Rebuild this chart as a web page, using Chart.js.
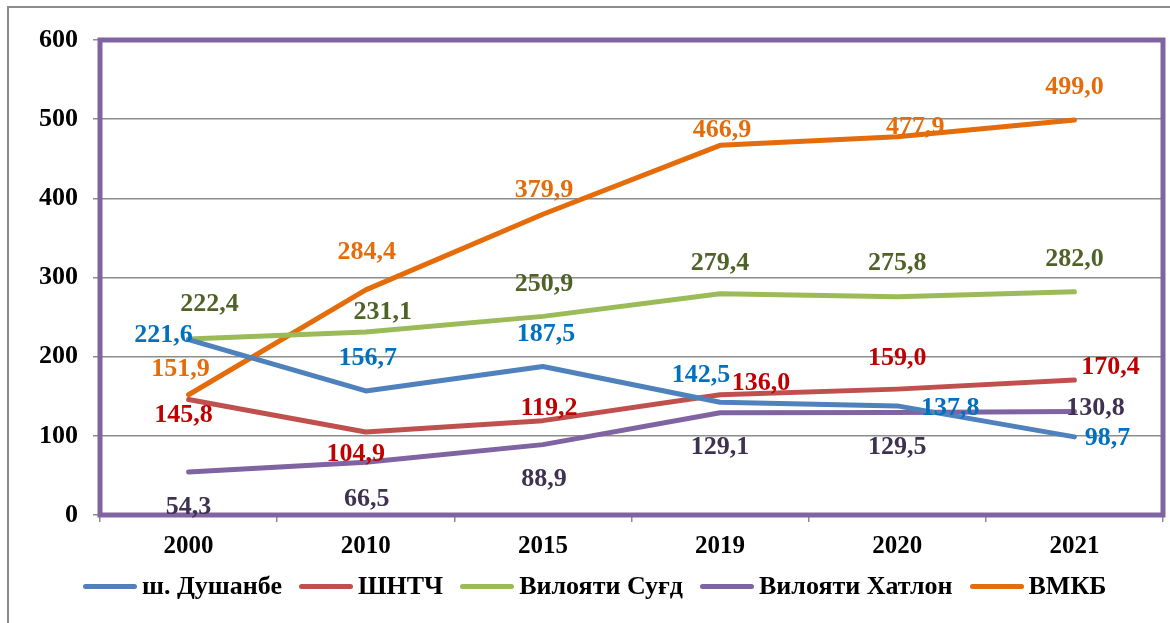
<!DOCTYPE html>
<html lang="tg">
<head>
  <meta charset="UTF-8">
  <title>Диаграмма</title>
  <script src="https://cdn.jsdelivr.net/npm/chart.js"></script>
  <style>
    body {
      margin: 0;
      width: 1170px;
      height: 623px;
      overflow: hidden;
      background: #fff;
      font-family: 'Liberation Serif', 'Times New Roman', serif;
    }
    #frame {
      position: absolute;
      left: 7px;
      top: 6px;
      width: 1300px;
      height: 800px;
      border: 2px solid #8c8c8c;
    }
    #chart {
      position: absolute;
      left: 0;
      top: 0;
    }
    #legend {
      position: absolute;
      left: 83px;
      top: 571px;
      height: 30px;
      display: flex;
      align-items: center;
      font-weight: bold;
      font-size: 26px;
      color: #000;
      white-space: nowrap;
    }
    .item {
      display: flex;
      align-items: center;
      margin-right: 17px;
    }
    .swatch {
      width: 54px;
      height: 5px;
      border-radius: 3px;
      margin-right: 5px;
    }
  </style>
</head>
<body>
  <div id="frame"></div>
  <canvas id="chart" width="1170" height="623"></canvas>
  <div id="legend"></div>

  <script>
    const years = ["2000", "2010", "2015", "2019", "2020", "2021"];
    const dushanbe = [221.6, 156.7, 187.5, 142.5, 137.8, 98.7];
    const shntch = [145.8, 104.9, 119.2, 152.0, 159.0, 170.4];
    // label printed in the original at 2019 differs from where the line sits
    const shntchText = ["145,8", "104,9", "119,2", "136,0", "159,0", "170,4"];
    const sughd = [222.4, 231.1, 250.9, 279.4, 275.8, 282.0];
    const khatlon = [54.3, 66.5, 88.9, 129.1, 129.5, 130.8];
    const vmkb = [151.9, 284.4, 379.9, 466.9, 477.9, 499.0];
    const yTicks = [0, 100, 200, 300, 400, 500, 600];

    const fmt = v => v.toFixed(1).replace(".", ",");
    const serif = "'Liberation Serif', 'Times New Roman', serif";

    // series: name, data, line colour, label colour, label offsets
    const series = [
      { name: "ш. Душанбе", data: dushanbe, color: "#4F81BD", labelColor: "#0070C0",
        off: [[-25, -4], [2, -33], [3, -32], [-19, -27], [53, 2], [33, 1]] },
      { name: "ШНТЧ", data: shntch, text: shntchText, color: "#C0504D", labelColor: "#C00000",
        off: [[-5, 16], [-10, 22], [6, -12], [41, -11], [0, -31], [36, -13]] },
      { name: "Вилояти Суғд", data: sughd, color: "#9BBB59", labelColor: "#4F6228",
        off: [[21, -35], [17, -20], [1, -32], [0, -31], [0, -33], [0, -32]] },
      { name: "Вилояти Хатлон", data: khatlon, color: "#8064A2", labelColor: "#3F3151",
        off: [[0, 35], [1, 37], [1, 35], [0, 34], [0, 35], [21, -3]] },
      { name: "ВМКБ", data: vmkb, color: "#E46C0A", labelColor: "#E46C0A",
        off: [[-8, -25], [1, -38], [1, -24], [2, -15], [18, -9], [0, -33]] }
    ];

    // purple frame round the plot area
    const plotBorder = {
      id: "plotBorder",
      beforeDatasetsDraw(chart) {
        const { ctx, chartArea: a } = chart;
        ctx.save();
        ctx.strokeStyle = "#8064A2";
        ctx.lineWidth = 5;
        ctx.strokeRect(a.left, a.top, a.right - a.left, a.bottom - a.top);
        ctx.restore();
      }
    };

    // value labels next to each point
    const valueLabels = {
      id: "valueLabels",
      afterDatasetsDraw(chart) {
        const ctx = chart.ctx;
        ctx.save();
        ctx.font = "bold 26px " + serif;
        ctx.textAlign = "center";
        ctx.textBaseline = "middle";
        series.forEach((s, i) => {
          const meta = chart.getDatasetMeta(i);
          meta.data.forEach((pt, j) => {
            const txt = s.text ? s.text[j] : fmt(s.data[j]);
            ctx.fillStyle = s.labelColor;
            ctx.fillText(txt, pt.x + s.off[j][0], pt.y + s.off[j][1]);
          });
        });
        ctx.restore();
      }
    };

    const chart = new Chart(document.getElementById("chart"), {
      type: "line",
      data: {
        labels: years,
        datasets: series.map(s => ({
          label: s.name,
          data: s.data,
          borderColor: s.color,
          backgroundColor: s.color,
          borderWidth: 5,
          borderCapStyle: "round",
          borderJoinStyle: "round",
          pointRadius: 0,
          tension: 0,
          fill: false
        }))
      },
      options: {
        responsive: false,
        animation: false,
        layout: { padding: { top: 40, right: 7, left: 0, bottom: 58 } },
        scales: {
          x: {
            offset: true,
            grid: { offset: true, drawOnChartArea: false, tickLength: 7, color: "#8c8c8c", lineWidth: 1.5 },
            border: { display: false },
            ticks: { color: "#000", padding: 10, font: { family: serif, size: 25, weight: "bold" } },
            afterFit: s => { s.height = 50; }
          },
          y: {
            min: 0,
            max: 600,
            afterBuildTicks: s => { s.ticks = yTicks.map(v => ({ value: v })); },
            grid: { tickLength: 7, color: "#8c8c8c", lineWidth: 1.5 },
            border: { display: false },
            ticks: { color: "#000", padding: 15, font: { family: serif, size: 26, weight: "bold" } },
            afterFit: s => { s.width = 100; }
          }
        },
        plugins: {
          tooltip: { enabled: false },
          legend: { display: false }
        }
      },
      plugins: [plotBorder, valueLabels]
    });

    // legend built from the chart's own datasets
    const legend = document.getElementById("legend");
    chart.data.datasets.forEach(ds => {
      const item = document.createElement("div");
      item.className = "item";
      item.innerHTML = `<span class="swatch" style="background:${ds.borderColor}"></span><span>${ds.label}</span>`;
      legend.appendChild(item);
    });
  </script>
</body>
</html>
